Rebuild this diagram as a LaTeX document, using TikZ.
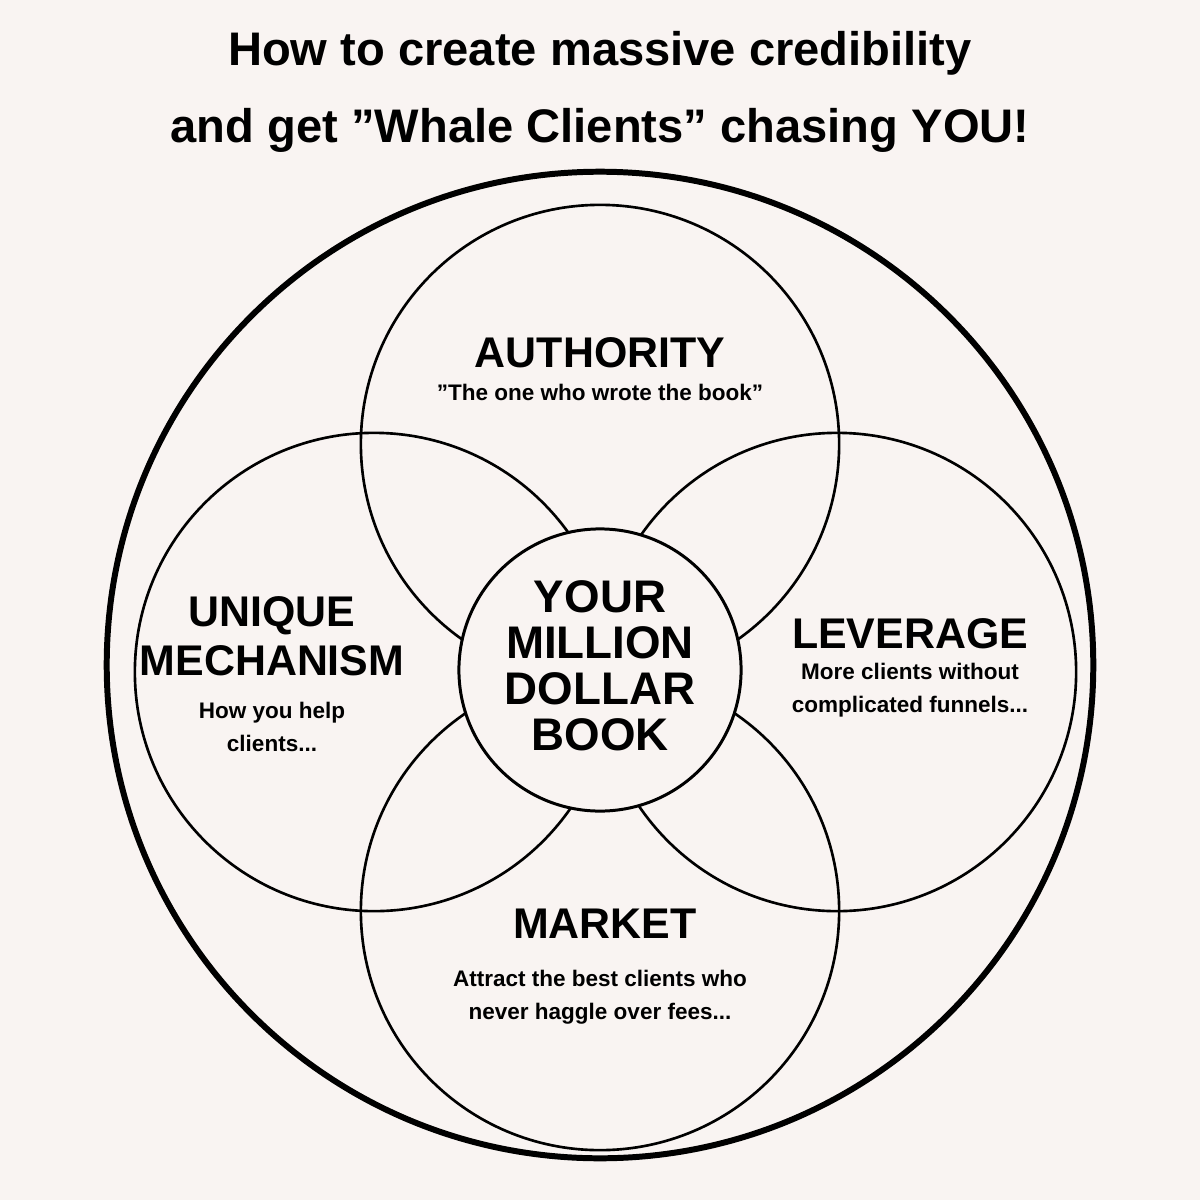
\documentclass[tikz,border=0pt]{standalone}
\usepackage{fontspec}
\setmainfont{Liberation Sans}
\usetikzlibrary{positioning}
\definecolor{paper}{HTML}{F9F4F2}
\tikzset{
  ring/.style={circle,draw=black,line width=0.75pt,inner sep=0pt},
  head/.style={font=\fontsize{12.2}{14}\selectfont\bfseries,align=center},
  note/.style={font=\fontsize{6.4}{9.4}\selectfont\bfseries,align=center},
}
\begin{document}
\begin{tikzpicture}[x=0.01cm,y=-0.01cm]
    % page
    \fill[paper] (0,0) rectangle (1200,1200);
    \useasboundingbox (0,0) rectangle (1200,1200);
    \node[font=\fontsize{13.4}{21.9}\selectfont\bfseries,align=center] (title) at (600,92)
        {How to create massive credibility\\and get "Whale Clients" chasing YOU!};

    % circles
    \node[ring,line width=1.7pt,minimum size=9.86cm] (outer) at (600,665) {};
    \node[ring,minimum size=4.78cm] (top) at (600,444) {};
    \node[ring,minimum size=4.78cm] (left) at (374,672) {};
    \node[ring,minimum size=4.78cm] (right) at (837,672) {};
    \node[ring,minimum size=4.78cm] (bottom) at (600,911) {};
    \node[ring,fill=paper,line width=0.85pt,minimum size=2.82cm] (core) at (600,670) {};

    % labels
    \node[head] (authority) at (600,353) {AUTHORITY};
    \node[note] (authnote) at (600,392) {"The one who wrote the book"};
    \node[head,font=\fontsize{13}{13.1}\selectfont\bfseries] (book) at (600,666)
        {YOUR\\MILLION\\DOLLAR\\BOOK};
    \node[head,font=\fontsize{12.2}{13.9}\selectfont\bfseries] (unique) at (272,636) {UNIQUE\\MECHANISM};
    \node[note] (uniquenote) at (272,727) {How you help\\clients...};
    \node[head] (leverage) at (910,634) {LEVERAGE};
    \node[note] (levnote) at (910,690) {More clients without\\complicated funnels...};
    \node[head] (market) at (605,924) {MARKET};
    \node[note] (marknote) at (600,997) {Attract the best clients who\\never haggle over fees...};
\end{tikzpicture}
\end{document}
